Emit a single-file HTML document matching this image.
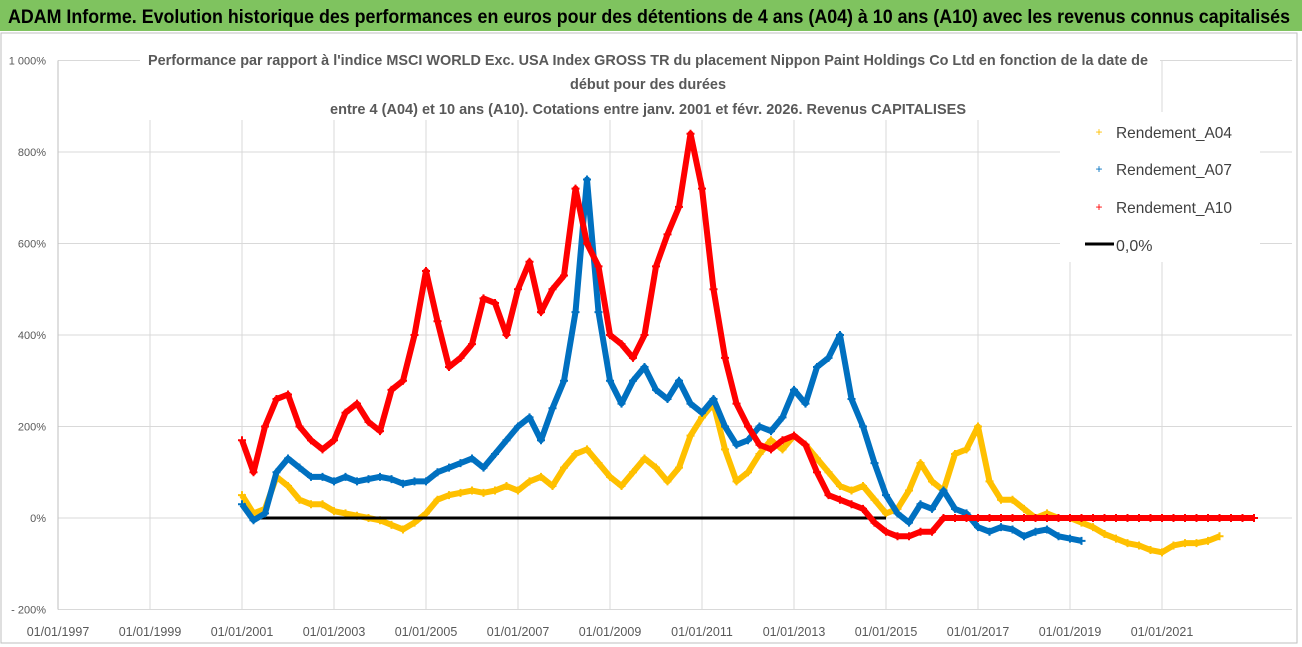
<!DOCTYPE html>
<html><head><meta charset="utf-8"><style>
body{margin:0;background:#fff;}
svg{display:block;font-family:"Liberation Sans",sans-serif;}
</style></head><body>
<svg id="chart" width="1302" height="647">
<rect x="0" y="0" width="1302" height="647" fill="#fff"/>
<rect x="0" y="0" width="1302" height="31" fill="#7fc35f"/>
<text x="8" y="23" font-size="19" font-weight="bold" fill="#000" textLength="1282" lengthAdjust="spacingAndGlyphs">ADAM Informe. Evolution historique des performances en euros pour des détentions de 4 ans (A04) à 10 ans (A10) avec les revenus connus capitalisés</text>
<rect x="1" y="33" width="1296" height="610" fill="none" stroke="#bfbfbf"/>
<g id="grid"></g>
<g id="series"></g>
<rect x="140" y="45" width="1020" height="75" fill="#fff"/>
<g font-size="15" font-weight="bold" fill="#595959" text-anchor="middle">
<text x="648" y="65" textLength="1000" lengthAdjust="spacingAndGlyphs">Performance par rapport à l'indice MSCI WORLD Exc. USA Index GROSS TR  du placement Nippon Paint Holdings Co Ltd en fonction de la date de</text>
<text x="648" y="89" textLength="156" lengthAdjust="spacingAndGlyphs">début pour des durées</text>
<text x="648" y="114" textLength="636" lengthAdjust="spacingAndGlyphs">entre 4 (A04) et 10 ans (A10). Cotations entre janv. 2001 et févr. 2026. Revenus CAPITALISES</text>
</g>
<g>
<rect x="1060" y="112" width="200" height="150" fill="#fff"/>
<text x="1099" y="136" font-size="12" fill="#ffc000" text-anchor="middle">+</text>
<text x="1116" y="138" font-size="16" fill="#404040" textLength="116" lengthAdjust="spacingAndGlyphs">Rendement_A04</text>
<text x="1099" y="173" font-size="12" fill="#0070c0" text-anchor="middle">+</text>
<text x="1116" y="175" font-size="16" fill="#404040" textLength="116" lengthAdjust="spacingAndGlyphs">Rendement_A07</text>
<text x="1099" y="211" font-size="12" fill="#ff0000" text-anchor="middle">+</text>
<text x="1116" y="213" font-size="16" fill="#404040" textLength="116" lengthAdjust="spacingAndGlyphs">Rendement_A10</text>
<line x1="1085" y1="244" x2="1114" y2="244" stroke="#000" stroke-width="3"/>
<text x="1116" y="251" font-size="16" fill="#404040">0,0%</text>
</g>
</svg>
<script>
const yTicks=[1000,800,600,400,200,0,-200];
const yTickLabels=["1 000%","800%","600%","400%","200%","0%","- 200%"];
const xTicks=[1997,1999,2001,2003,2005,2007,2009,2011,2013,2015,2017,2019,2021];
const xTickLabels=["01/01/1997","01/01/1999","01/01/2001","01/01/2003","01/01/2005","01/01/2007","01/01/2009","01/01/2011","01/01/2013","01/01/2015","01/01/2017","01/01/2019","01/01/2021"];
const seriesStart=2001.0;
const seriesStep=0.25;
const a04=[50,10,20,90,70,40,30,30,15,10,5,0,-5,-15,-25,-10,10,40,50,55,60,55,60,70,60,80,90,70,110,140,150,120,90,70,100,130,110,80,110,180,220,250,150,80,100,140,170,150,180,160,130,100,70,60,70,40,10,20,60,120,80,60,140,150,200,80,40,40,20,0,10,0,0,-10,-20,-35,-45,-55,-60,-70,-75,-60,-55,-55,-50,-40];
const a07=[30,-5,10,100,130,110,90,90,80,90,80,85,90,85,75,80,80,100,110,120,130,110,140,170,200,220,170,240,300,450,740,450,300,250,300,330,280,260,300,250,230,260,200,160,170,200,190,220,280,250,330,350,400,260,200,120,50,10,-10,30,20,60,20,10,-20,-30,-20,-25,-40,-30,-25,-40,-45,-50];
const a10=[170,100,200,260, 270,200,170,150, 170,230,250,210, 190,280,300,400, 540,430,330,350, 380,480,470,400, 500,560,450,500, 530,720,600,550, 400,380,350,400, 550,620,680,840, 720,500,350,250, 200,160,150,170, 180,160,100,50, 40,30,20,-10, -30,-40,-40,-30, -30,
 0,0,0,0,0,0,0,0,0,0, 0,0,0,0,0,0,0,0,0,0, 0,0,0,0,0,0,0,0];
const zeroLine=[2001.2,2015.0];
const NS="http://www.w3.org/2000/svg";
function xs(yr){return 58+(yr-1997)*46;}
function ys(v){return 518-v*0.4575;}
function mk(tag,attrs,parent){const e=document.createElementNS(NS,tag);for(const k in attrs)e.setAttribute(k,attrs[k]);parent.appendChild(e);return e;}
const grid=document.getElementById('grid');
yTicks.forEach((v,i)=>{
  const l=mk('line',{x1:58,x2:1292,y1:ys(v),y2:ys(v),stroke:'#d9d9d9'},grid);
  
  
  const t=mk('text',{x:46,y:ys(v)+4,'font-size':11,fill:'#595959','text-anchor':'end'},grid);
  t.textContent=yTickLabels[i];
  
  
});
xTicks.forEach((yr,i)=>{
  const l=mk('line',{x1:xs(yr),x2:xs(yr),y1:ys(1000),y2:ys(-200),stroke:'#d9d9d9'},grid);
  
  
  const t=mk('text',{x:xs(yr),y:636,'font-size':12.5,fill:'#595959','text-anchor':'middle'},grid);
  t.textContent=xTickLabels[i];
  
  
});
const ax=mk('line',{x1:58,x2:58,y1:ys(1000),y2:ys(-200),stroke:'#bfbfbf'},grid);


const sg=document.getElementById('series');
function drawSeries(arr,color,name){
  const g=mk('g',{},sg);
  
  
  const pts=arr.map((v,i)=>xs(seriesStart+i*seriesStep)+','+ys(v)).join(' ');
  mk('polyline',{points:pts,fill:'none',stroke:color,'stroke-width':6,'stroke-linejoin':'round'},g);
  arr.forEach((v,i)=>{
    const x=xs(seriesStart+i*seriesStep),y=ys(v);
    const p=mk('path',{d:`M${x-4},${y}H${x+4}M${x},${y-4}V${y+4}`,stroke:color,'stroke-width':2},g);
    
    
  });
}
drawSeries(a04,'#ffc000','series-a04');
const zl=mk('line',{x1:xs(zeroLine[0]),x2:xs(zeroLine[1]),y1:ys(0),y2:ys(0),stroke:'#000','stroke-width':3},sg);


drawSeries(a07,'#0070c0','series-a07');
drawSeries(a10,'#ff0000','series-a10');
</script>
</body></html>
